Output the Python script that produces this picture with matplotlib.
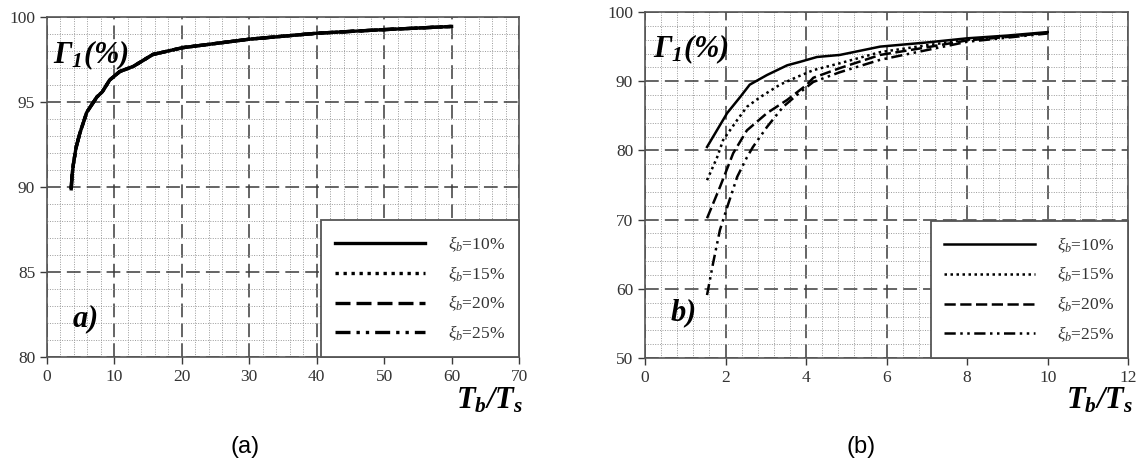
import matplotlib
matplotlib.use("Agg")
import matplotlib.pyplot as plt
from matplotlib.ticker import MultipleLocator


# =========================
# Data
# =========================

labels = [r"$\xi_b$=10%", r"$\xi_b$=15%", r"$\xi_b$=20%", r"$\xi_b$=25%"]

# panel a) - all four damping levels fall on the same curve
x_a = [3.6, 3.7, 3.9, 4.3, 4.9, 5.9, 7.4, 8.2, 9.3, 10.8, 12.8, 15.7, 20.1, 30.0, 40.0, 49.3, 60.0]
y_a = [89.9, 90.6, 91.3, 92.3, 93.2, 94.4, 95.3, 95.6, 96.3, 96.8, 97.1, 97.8, 98.2, 98.7, 99.05, 99.25, 99.45]

# panel b)
xb_10 = [1.54, 2.04, 2.36, 2.6, 3.03, 3.53, 3.85, 4.27, 4.84, 5.84, 7.0, 8.0, 9.0, 10.0]
yb_10 = [80.5, 85.4, 87.7, 89.5, 90.9, 92.3, 92.8, 93.5, 93.8, 95.0, 95.6, 96.2, 96.6, 97.1]

xb_15 = [1.54, 1.79, 1.94, 2.29, 2.53, 2.86, 3.35, 3.77, 4.18, 4.84, 5.84, 7.0, 8.0, 9.0, 10.0]
yb_15 = [75.7, 79.0, 81.5, 84.4, 86.3, 87.7, 89.5, 90.6, 91.6, 92.6, 94.2, 95.2, 96.0, 96.5, 97.0]

xb_20 = [1.54, 1.86, 2.19, 2.53, 3.03, 3.53, 4.02, 4.18, 4.84, 5.84, 7.0, 8.0, 9.0, 10.0]
yb_20 = [70.2, 74.7, 79.6, 82.9, 85.4, 87.3, 89.5, 90.5, 91.9, 93.8, 94.9, 95.9, 96.4, 97.0]

xb_25 = [1.54, 1.69, 1.86, 2.04, 2.29, 2.53, 2.68, 3.03, 3.43, 3.85, 4.18, 4.84, 5.84, 7.0, 8.0, 9.0, 10.0]
yb_25 = [59.1, 63.7, 68.5, 71.8, 76.2, 79.0, 80.5, 83.4, 86.3, 88.4, 89.9, 91.3, 93.1, 94.5, 95.7, 96.3, 96.9]

styles = ["-", (0, (1, 1.4)), (0, (4.5, 1.8)), (0, (4.5, 1.8, 1, 1.8, 1, 1.8))]


# =========================
# Fonts
# =========================

plt.rcParams["font.family"] = ["Liberation Serif", "DejaVu Serif"]
plt.rcParams["mathtext.fontset"] = "custom"
plt.rcParams["mathtext.rm"] = "Liberation Serif"
plt.rcParams["mathtext.it"] = "Liberation Serif:italic"
plt.rcParams["mathtext.bf"] = "Liberation Serif:bold"
plt.rcParams["mathtext.bfit"] = "Liberation Serif:italic:bold"

GRID_DARK = "#3a3a3a"
GRID_LIGHT = "#9a9a9a"
TEXT_GRAY = "#333333"


def style_axes(ax, xmax, ymin, xmajor, xminor, ymajor, yminor):
    ax.set_xlim(0, xmax)
    ax.set_ylim(ymin, 100)
    ax.xaxis.set_major_locator(MultipleLocator(xmajor))
    ax.xaxis.set_minor_locator(MultipleLocator(xminor))
    ax.yaxis.set_major_locator(MultipleLocator(ymajor))
    ax.yaxis.set_minor_locator(MultipleLocator(yminor))
    ax.grid(True, which="major", color=GRID_DARK, linestyle=(0, (9, 4)), linewidth=1.1)
    ax.grid(True, which="minor", color=GRID_LIGHT, linestyle=(0, (1, 1.5)), linewidth=0.7)
    ax.set_axisbelow(True)
    ax.tick_params(which="major", direction="out", length=5, width=1.0,
                   colors=GRID_DARK, labelcolor=TEXT_GRAY, labelsize=12.5)
    ax.tick_params(which="minor", length=0)
    for sp in ax.spines.values():
        sp.set_color("#555555")
        sp.set_linewidth(1.2)


def add_legend(ax):
    leg = ax.legend(
        loc="lower right",
        bbox_to_anchor=(1.0, 0.0),
        borderaxespad=0.0,
        fontsize=12.5,
        handlelength=5.2,
        handletextpad=1.3,
        labelspacing=0.6,
        borderpad=0.8,
        fancybox=False,
        framealpha=1.0,
        edgecolor="#555555",
    )
    leg.get_frame().set_linewidth(1.3)
    for t in leg.get_texts():
        t.set_color(TEXT_GRAY)


fig = plt.figure(figsize=(11.37, 4.62), dpi=100)
ax_a = fig.add_axes([0.0413, 0.227, 0.4152, 0.736])
ax_b = fig.add_axes([0.5673, 0.225, 0.4250, 0.749])

# =========================
# Panel a
# =========================

style_axes(ax_a, 70, 80, 10, 2, 5, 1)
for i, lab in enumerate(labels):
    ax_a.plot(x_a, y_a, color="black", linestyle=styles[i], linewidth=2.4,
              label=lab, zorder=4 if i == 0 else 3)
add_legend(ax_a)

ax_a.text(0.013, 0.888, r"$\mathbfit{\Gamma}_{\mathbfit{1}}\mathbfit{(\%)}$",
          transform=ax_a.transAxes, fontsize=22, va="center", ha="left")
ax_a.text(0.053, 0.112, r"$\mathbfit{a)}$", transform=ax_a.transAxes,
          fontsize=22, va="center", ha="left")

# =========================
# Panel b
# =========================

style_axes(ax_b, 12, 50, 2, 0.4, 10, 2)
b_series = [(xb_10, yb_10), (xb_15, yb_15), (xb_20, yb_20), (xb_25, yb_25)]
for i, (xs, ys) in enumerate(b_series):
    ax_b.plot(xs, ys, color="black", linestyle=styles[i], linewidth=1.8, label=labels[i])
add_legend(ax_b)

ax_b.text(0.017, 0.893, r"$\mathbfit{\Gamma}_{\mathbfit{1}}\mathbfit{(\%)}$",
          transform=ax_b.transAxes, fontsize=22, va="center", ha="left")
ax_b.text(0.052, 0.13, r"$\mathbfit{b)}$", transform=ax_b.transAxes,
          fontsize=22, va="center", ha="left")

# =========================
# Axis titles and captions
# =========================

fig.text(0.46, 0.132, r"$\mathbfit{T_b/T_s}$", fontsize=22, ha="right", va="center")
fig.text(0.9965, 0.132, r"$\mathbfit{T_b/T_s}$", fontsize=22, ha="right", va="center")

fig.text(245 / 1137, 1 - 447 / 462, "(a)", fontsize=17, ha="center", va="center",
         family=["Liberation Sans", "DejaVu Sans"])
fig.text(861 / 1137, 1 - 447 / 462, "(b)", fontsize=17, ha="center", va="center",
         family=["Liberation Sans", "DejaVu Sans"])

fig.savefig("out.png", dpi=100)
